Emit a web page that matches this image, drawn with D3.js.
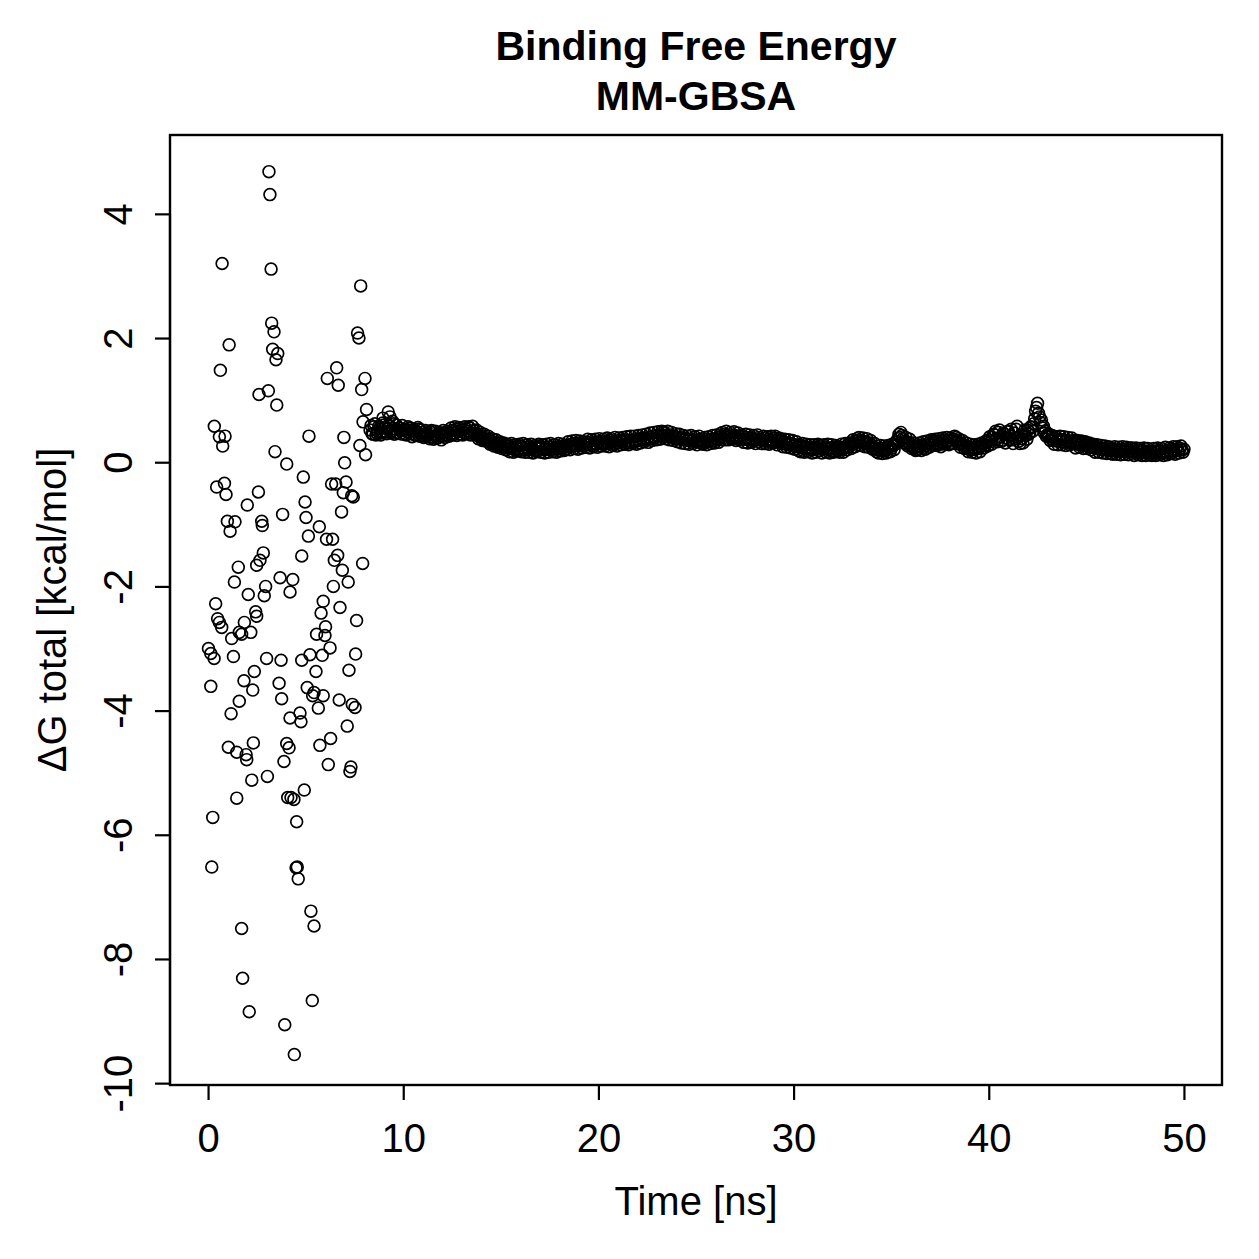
<!DOCTYPE html>
<html>
<head>
<meta charset="utf-8">
<script src="https://cdn.jsdelivr.net/npm/d3@7"></script>
<style>
  body { margin: 0; background: #fff; }
  text { font-family: "Liberation Sans", Arial, Helvetica, sans-serif; fill: #000; }
</style>
</head>
<body>
<div id="canvas"></div>
<script>
// early, scattered frames (time in ns, dG in kcal/mol)
const scatterTime = [3.12,3.17,0.72,3.23,7.82,3.26,3.38,7.66,7.73,1.08,3.31,3.57,3.48,0.63,6.59,6.11,6.67,8.04,7.87,2.61,
  3.09,3.52,8.12,0.32,0.58,0.87,0.75,5.17,6.96,3.43,7.78,8.07,7.94,8.96,9.23,9.32,4.03,7.00,0.44,0.84,
  0.92,2.58,4.88,2.01,3.82,4.97,5.02,6.33,6.54,7.07,6.93,7.36,7.44,6.84,0.99,1.38,1.13,2.75,2.78,5.70,
  5.14,6.07,6.38,4.80,2.83,2.66,2.49,6.64,6.47,6.88,7.18,7.92,1.55,1.35,3.69,4.34,4.20,2.95,2.88,2.06,
  6.42,0.39,5.90,5.79,6.76,7.61,0.49,0.58,0.70,1.86,1.60,1.72,2.19,1.21,2.44,2.49,6.02,5.56,5.99,6.25,
  7.56,0.02,0.14,0.31,1.30,3.00,3.74,4.80,5.22,5.85,5.53,7.22,2.37,1.84,2.29,0.14,3.64,3.77,5.08,5.43,
  5.36,5.90,5.65,6.72,7.39,7.53,1.60,1.18,4.71,4.20,4.76,7.13,1.04,1.47,1.95,1.98,2.32,4.03,4.15,5.73,
  6.28,3.89,6.16,7.32,7.27,2.24,3.04,1.47,4.93,4.08,4.25,4.40,0.24,4.54,0.19,4.51,4.57,4.62,5.27,5.43,
  1.72,1.77,5.34,2.11,3.93,4.42];
const scatterDG = [4.68,4.31,3.20,3.11,2.84,2.24,2.10,2.08,2.00,1.89,1.82,1.75,1.65,1.48,1.52,1.35,1.24,1.35,1.17,1.09,
  1.15,0.92,0.85,0.58,0.41,0.42,0.26,0.42,0.40,0.17,0.27,0.12,0.65,0.71,0.81,0.73,-0.03,-0.01,-0.40,-0.34,
  -0.52,-0.48,-0.24,-0.69,-0.84,-0.64,-0.89,-0.35,-0.35,-0.32,-0.49,-0.54,-0.56,-0.80,-0.95,-0.96,-1.11,-0.95,-1.02,-1.04,
  -1.19,-1.24,-1.24,-1.51,-1.46,-1.58,-1.66,-1.50,-1.58,-1.74,-1.93,-1.63,-1.69,-1.93,-1.86,-1.89,-2.09,-2.00,-2.15,-2.13,
  -2.00,-2.28,-2.24,-2.43,-2.34,-2.55,-2.52,-2.58,-2.66,-2.58,-2.74,-2.77,-2.74,-2.84,-2.41,-2.48,-2.65,-2.77,-2.79,-2.99,
  -3.09,-3.00,-3.08,-3.16,-3.13,-3.16,-3.19,-3.19,-3.10,-3.11,-3.37,-3.35,-3.37,-3.52,-3.67,-3.61,-3.56,-3.81,-3.63,-3.71,
  -3.76,-3.76,-3.96,-3.83,-3.90,-3.95,-3.85,-4.05,-4.04,-4.12,-4.18,-4.25,-4.59,-4.67,-4.71,-4.79,-4.52,-4.53,-4.60,-4.56,
  -4.45,-4.82,-4.87,-4.91,-4.98,-5.12,-5.06,-5.41,-5.28,-5.40,-5.40,-5.43,-5.72,-5.79,-6.52,-6.53,-6.52,-6.71,-7.23,-7.47,
  -7.51,-8.31,-8.67,-8.85,-9.06,-9.54];

// equilibrated frames: set A every 0.1 ns from 8.30 ns, set B every 0.1 ns from 8.35 ns
const denseStartA = 8.3;
const denseStartB = 8.35;
const denseStep = 0.1;
const denseA = [
  0.52,0.46,0.57,0.44,0.50,0.55,0.47,0.60,0.49,0.54,
  0.58,0.50,0.62,0.53,0.47,0.55,0.51,0.45,0.53,0.49,
  0.52,0.46,0.50,0.44,0.49,0.53,0.45,0.48,0.42,0.47,
  0.44,0.49,0.41,0.46,0.43,0.40,0.45,0.42,0.47,0.44,
  0.48,0.45,0.51,0.47,0.53,0.49,0.45,0.52,0.48,0.54,
  0.50,0.55,0.47,0.51,0.44,0.46,0.41,0.43,0.38,0.40,
  0.35,0.37,0.31,0.33,0.29,0.31,0.27,0.29,0.25,0.27,
  0.23,0.26,0.22,0.25,0.20,0.24,0.21,0.26,0.23,0.20,
  0.24,0.21,0.25,0.22,0.19,0.23,0.26,0.22,0.24,0.20,
  0.23,0.21,0.25,0.20,0.22,0.24,0.21,0.25,0.23,0.26,
  0.24,0.27,0.25,0.29,0.26,0.30,0.27,0.31,0.28,0.26,
  0.30,0.28,0.32,0.29,0.27,0.31,0.29,0.33,0.30,0.32,
  0.29,0.33,0.31,0.35,0.32,0.30,0.34,0.31,0.35,0.33,
  0.36,0.33,0.31,0.35,0.32,0.36,0.34,0.37,0.35,0.38,
  0.36,0.39,0.37,0.40,0.38,0.42,0.39,0.43,0.41,0.44,
  0.42,0.46,0.43,0.41,0.44,0.40,0.42,0.38,0.40,0.37,
  0.39,0.36,0.38,0.35,0.37,0.34,0.36,0.33,0.35,0.37,
  0.34,0.32,0.36,0.33,0.35,0.37,0.34,0.38,0.36,0.40,
  0.42,0.39,0.45,0.43,0.41,0.44,0.40,0.43,0.39,0.42,
  0.38,0.41,0.37,0.40,0.36,0.39,0.35,0.38,0.36,0.40,
  0.37,0.35,0.38,0.34,0.37,0.33,0.36,0.39,0.35,0.33,
  0.34,0.30,0.33,0.29,0.31,0.28,0.30,0.26,0.28,0.25,
  0.27,0.23,0.26,0.22,0.24,0.21,0.23,0.20,0.24,0.22,
  0.19,0.23,0.21,0.25,0.22,0.20,0.23,0.19,0.22,0.24,
  0.21,0.24,0.20,0.23,0.26,0.24,0.28,0.31,0.29,0.33,
  0.35,0.32,0.34,0.30,0.33,0.29,0.31,0.27,0.24,0.22,
  0.20,0.23,0.19,0.22,0.18,0.21,0.24,0.22,0.26,0.29,
  0.33,0.45,0.48,0.38,0.34,0.30,0.32,0.27,0.25,0.23,
  0.26,0.22,0.25,0.28,0.24,0.27,0.31,0.29,0.33,0.30,
  0.34,0.31,0.29,0.33,0.36,0.32,0.35,0.30,0.34,0.37,
  0.40,0.33,0.29,0.31,0.27,0.25,0.22,0.24,0.20,0.23,
  0.21,0.25,0.22,0.26,0.29,0.27,0.32,0.36,0.33,0.40,
  0.44,0.37,0.48,0.41,0.35,0.45,0.39,0.50,0.42,0.36,
  0.47,0.53,0.40,0.30,0.38,0.45,0.43,0.52,0.48,0.56,
  0.62,0.82,0.95,0.73,0.68,0.58,0.50,0.44,0.41,0.38,
  0.35,0.38,0.34,0.37,0.33,0.36,0.32,0.35,0.31,0.34,
  0.30,0.33,0.29,0.32,0.28,0.31,0.27,0.29,0.25,0.27,
  0.24,0.26,0.22,0.24,0.21,0.23,0.20,0.22,0.19,0.21,
  0.18,0.21,0.19,0.17,0.20,0.18,0.21,0.17,0.19,0.16,
  0.19,0.17,0.15,0.18,0.16,0.19,0.17,0.15,0.18,0.16,
  0.17,0.15,0.18,0.16,0.19,0.17,0.15,0.18,0.16,0.19,
  0.17,0.20,0.18,0.21,0.19,0.22,0.20,0.21];
const denseB = [
  0.59,0.45,0.62,0.47,0.58,0.44,0.63,0.50,0.46,0.60,
  0.47,0.66,0.45,0.60,0.55,0.46,0.59,0.52,0.44,0.57,
  0.55,0.41,0.53,0.43,0.56,0.42,0.52,0.40,0.51,0.44,
  0.38,0.51,0.37,0.50,0.39,0.48,0.36,0.51,0.40,0.50,
  0.42,0.55,0.44,0.57,0.43,0.56,0.52,0.44,0.57,0.46,
  0.57,0.44,0.58,0.45,0.52,0.38,0.48,0.35,0.45,0.34,
  0.42,0.29,0.38,0.26,0.36,0.24,0.33,0.22,0.31,0.20,
  0.29,0.17,0.30,0.16,0.28,0.18,0.29,0.17,0.30,0.16,
  0.28,0.16,0.29,0.15,0.27,0.17,0.29,0.16,0.28,0.15,
  0.29,0.16,0.30,0.17,0.28,0.16,0.30,0.18,0.29,0.19,
  0.21,0.33,0.20,0.34,0.22,0.35,0.21,0.34,0.23,0.33,
  0.24,0.37,0.23,0.36,0.25,0.37,0.24,0.38,0.26,0.37,
  0.26,0.39,0.25,0.38,0.27,0.40,0.26,0.39,0.28,0.40,
  0.29,0.41,0.28,0.42,0.30,0.42,0.29,0.43,0.31,0.44,
  0.33,0.45,0.32,0.47,0.35,0.48,0.36,0.49,0.37,0.50,
  0.49,0.38,0.50,0.36,0.48,0.35,0.46,0.33,0.45,0.31,
  0.43,0.30,0.42,0.29,0.43,0.30,0.41,0.28,0.42,0.31,
  0.29,0.40,0.28,0.41,0.30,0.43,0.31,0.44,0.32,0.46,
  0.48,0.36,0.50,0.36,0.48,0.37,0.49,0.35,0.47,0.36,
  0.44,0.32,0.45,0.31,0.44,0.32,0.43,0.30,0.44,0.33,
  0.30,0.42,0.30,0.41,0.29,0.42,0.31,0.42,0.28,0.39,
  0.38,0.25,0.37,0.24,0.36,0.23,0.35,0.21,0.33,0.19,
  0.17,0.30,0.16,0.29,0.17,0.28,0.15,0.28,0.16,0.29,
  0.27,0.15,0.28,0.16,0.29,0.15,0.28,0.16,0.27,0.18,
  0.16,0.29,0.16,0.30,0.20,0.31,0.22,0.36,0.25,0.38,
  0.40,0.27,0.39,0.25,0.38,0.24,0.35,0.21,0.30,0.17,
  0.15,0.27,0.14,0.26,0.15,0.27,0.17,0.29,0.20,0.33,
  0.38,0.40,0.43,0.31,0.40,0.26,0.37,0.22,0.31,0.19,
  0.20,0.31,0.19,0.33,0.21,0.34,0.24,0.36,0.27,0.37,
  0.27,0.38,0.25,0.39,0.29,0.40,0.28,0.39,0.30,0.42,
  0.35,0.38,0.24,0.35,0.22,0.31,0.17,0.29,0.16,0.28,
  0.15,0.29,0.17,0.31,0.23,0.34,0.26,0.41,0.29,0.45,
  0.50,0.33,0.52,0.34,0.47,0.31,0.49,0.36,0.53,0.30,
  0.38,0.58,0.34,0.44,0.31,0.52,0.37,0.45,0.57,0.50,
  0.70,0.88,0.79,0.64,0.55,0.47,0.42,0.46,0.35,0.43,
  0.29,0.41,0.28,0.42,0.28,0.41,0.27,0.40,0.28,0.39,
  0.35,0.23,0.35,0.24,0.34,0.22,0.33,0.22,0.31,0.20,
  0.29,0.16,0.28,0.16,0.27,0.15,0.26,0.14,0.25,0.14,
  0.13,0.25,0.13,0.24,0.12,0.25,0.13,0.24,0.12,0.23,
  0.23,0.11,0.23,0.12,0.22,0.11,0.23,0.11,0.22,0.12,
  0.11,0.22,0.11,0.23,0.12,0.22,0.11,0.24,0.12,0.23,
  0.14,0.25,0.13,0.25,0.15,0.26,0.16];

const xTicks = [0, 10, 20, 30, 40, 50];
const yTicks = [-10, -8, -6, -4, -2, 0, 2, 4];

const width = 1259;
const height = 1259;
const plot = { left: 170, right: 1222, top: 135, bottom: 1085 };
const fontSize = 40;

const svg = d3.select("#canvas").append("svg")
  .attr("width", width)
  .attr("height", height);

const x = d3.scaleLinear().domain([-1.95, 51.95]).range([plot.left, plot.right]);
const y = d3.scaleLinear().domain([-10.03, 5.27]).range([plot.bottom, plot.top]);

const points = scatterTime.map((t, i) => ({ t: t, v: scatterDG[i] }))
  .concat(denseA.map((v, i) => ({ t: denseStartA + i * denseStep, v: v })))
  .concat(denseB.map((v, i) => ({ t: denseStartB + i * denseStep, v: v })));

svg.append("g").selectAll("circle").data(points)
  .enter().append("circle")
  .attr("cx", d => x(d.t))
  .attr("cy", d => y(d.v))
  .attr("r", 5.9)
  .attr("fill", "none")
  .attr("stroke", "#000")
  .attr("stroke-width", 1.7);

// box
svg.append("rect")
  .attr("x", plot.left)
  .attr("y", plot.top)
  .attr("width", plot.right - plot.left)
  .attr("height", plot.bottom - plot.top)
  .attr("fill", "none")
  .attr("stroke", "#000")
  .attr("stroke-width", 2.4);

// axes, R style
const xAxis = svg.append("g")
  .attr("transform", `translate(0,${plot.bottom})`)
  .call(d3.axisBottom(x).tickValues(xTicks).tickSize(15).tickFormat(d3.format("d")));
const yAxis = svg.append("g")
  .attr("transform", `translate(${plot.left},0)`)
  .call(d3.axisLeft(y).tickValues(yTicks).tickSize(15).tickFormat(d => String(d)));

[xAxis, yAxis].forEach(g => {
  g.select(".domain").remove();
  g.selectAll(".tick line").attr("stroke", "#000").attr("stroke-width", 2.2);
  g.selectAll(".tick text")
    .attr("font-size", fontSize)
    .style("font-family", "'Liberation Sans', Arial, sans-serif");
});
xAxis.selectAll(".tick text")
  .attr("y", 67)
  .attr("dy", null);
yAxis.selectAll(".tick text")
  .attr("text-anchor", "middle")
  .attr("x", 0)
  .attr("dy", null)
  .attr("transform", "translate(-38,0) rotate(-90)");

// axis lines from first to last tick
svg.append("line")
  .attr("x1", x(xTicks[0])).attr("x2", x(xTicks[xTicks.length - 1]))
  .attr("y1", plot.bottom).attr("y2", plot.bottom)
  .attr("stroke", "#000").attr("stroke-width", 2.2);
svg.append("line")
  .attr("x1", plot.left).attr("x2", plot.left)
  .attr("y1", y(yTicks[0])).attr("y2", y(yTicks[yTicks.length - 1]))
  .attr("stroke", "#000").attr("stroke-width", 2.2);

// titles
const cx = (plot.left + plot.right) / 2;
svg.append("text").attr("x", cx).attr("y", 60)
  .attr("text-anchor", "middle").attr("font-size", 41).attr("font-weight", "bold")
  .text("Binding Free Energy");
svg.append("text").attr("x", cx).attr("y", 110)
  .attr("text-anchor", "middle").attr("font-size", 41).attr("font-weight", "bold")
  .text("MM-GBSA");

svg.append("text").attr("x", cx).attr("y", 1215)
  .attr("text-anchor", "middle").attr("font-size", fontSize)
  .text("Time [ns]");
svg.append("text")
  .attr("transform", `translate(66,${(plot.top + plot.bottom) / 2}) rotate(-90)`)
  .attr("text-anchor", "middle").attr("font-size", fontSize)
  .text("ΔG total [kcal/mol]");
</script>
</body>
</html>
